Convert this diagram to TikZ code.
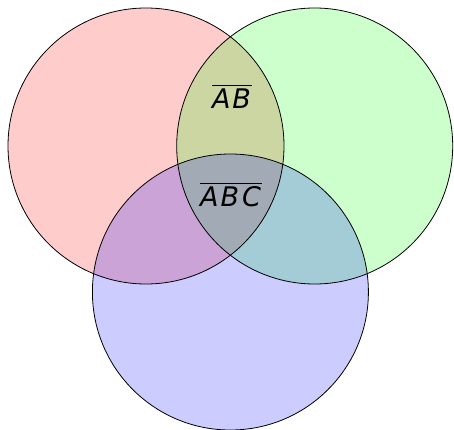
\documentclass[tikz,border=0pt]{standalone}
\usepackage{fontspec}
\setmainfont{DejaVu Sans}
\begin{document}
\begin{tikzpicture}[x=1pt,y=1pt,
  setfill/.style={fill opacity=0.2},
  setline/.style={draw=black,line width=0.8pt},
  lbl/.style={font=\fontsize{27}{30}\selectfont\itshape, inner sep=0pt}]
\useasboundingbox (0,0) rectangle (454,429);
\clip (0,0) rectangle (454,429);
\coordinate (cr) at (146,283);
\coordinate (cg) at (314.7,283);
\coordinate (cb) at (230.4,137);
\fill[red,setfill] (cr) circle (138);
\fill[green,setfill] (cg) circle (138);
\fill[blue,setfill] (cb) circle (138);
\draw[setline] (cr) circle (138);
\draw[setline] (cg) circle (138);
\draw[setline] (cb) circle (138);
\node[lbl] (ab) at (232,332) {$\overline{\mbox{\rule{0pt}{22pt}\itshape A\kern2pt B\kern1pt}}$};
\node[lbl] (abc) at (231,234) {$\overline{\mbox{\rule{0pt}{22pt}\itshape A\kern2pt B\kern3pt C\kern1pt}}$};
\end{tikzpicture}
\end{document}
